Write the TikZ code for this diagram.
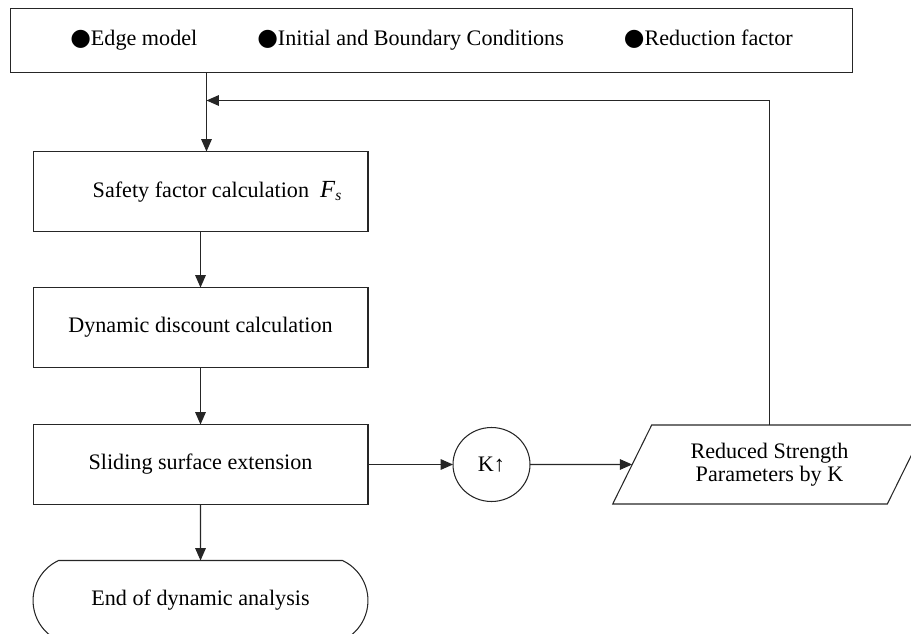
\documentclass[tikz,border=0pt]{standalone}
\usepackage{fontspec}
\setmainfont{Liberation Serif}
\newfontfamily\dotfont{DejaVu Sans}
\usetikzlibrary{shapes.geometric,shapes.misc,arrows.meta}

\newcommand{\blackdot}{{\dotfont\fontsize{13.5}{12}\selectfont ●}}

\begin{document}
\begin{tikzpicture}[x=0.02cm, y=-0.02cm,
		every node/.style={font=\fontsize{12.6}{13}\selectfont, inner sep=0pt, outer sep=0pt},
		stage/.style={draw=black!85, line width=0.6pt, minimum width=6.7cm, minimum height=1.6cm},
		flow/.style={-{Triangle[length=7pt, width=6pt]}, line width=0.6pt, draw=black!85}]
		\useasboundingbox (0,0) rectangle (911,634);
		\clip (0,0) rectangle (911,634);

		\node[stage, minimum width=16.84cm, minimum height=1.28cm] (inputs) at (431.5,40.5) {\blackdot Edge model\hspace{1.2cm}\blackdot Initial and Boundary Conditions\hspace{1.2cm}\blackdot Reduction factor};

		\node[stage] (safety) at (200.5,191.5) {\hspace{0.68cm}Safety factor calculation\enspace{\fontsize{14}{13}\selectfont\textit{F}}\textsubscript{\textit{s}}};
		\node[stage] (dynamic) at (200.5,327.5) {Dynamic discount calculation};
		\node[stage] (sliding) at (200.5,464.5) {Sliding surface extension};
		\node[stage, rounded rectangle, rounded rectangle arc length=130] (finish) at (200.5,600.5) {End of dynamic analysis};

		\node[draw=black!85, line width=0.6pt, ellipse, minimum width=1.54cm, minimum height=1.48cm] (kup) at (491.5,464.5) {K↑};
		\node[draw=black!85, line width=0.6pt, trapezium, trapezium left angle=58.7, trapezium right angle=121.3, trapezium stretches, minimum width=6.28cm, minimum height=1.58cm, align=center] (reduced) at (769.5,464.5) {Reduced Strength\\Parameters by K};

		\coordinate (join) at (206.5,100.5);

		\draw[flow] (inputs.south -| join) -- (join |- safety.north);
		\draw[flow] (safety) -- (dynamic);
		\draw[flow] (dynamic) -- (sliding);
		\draw[flow] (sliding) -- (finish);
		\draw[flow] (sliding) -- (kup);
		\draw[flow] (kup) -- (reduced);
		\draw[flow] (reduced.north) |- (join);
	\end{tikzpicture}
\end{document}
